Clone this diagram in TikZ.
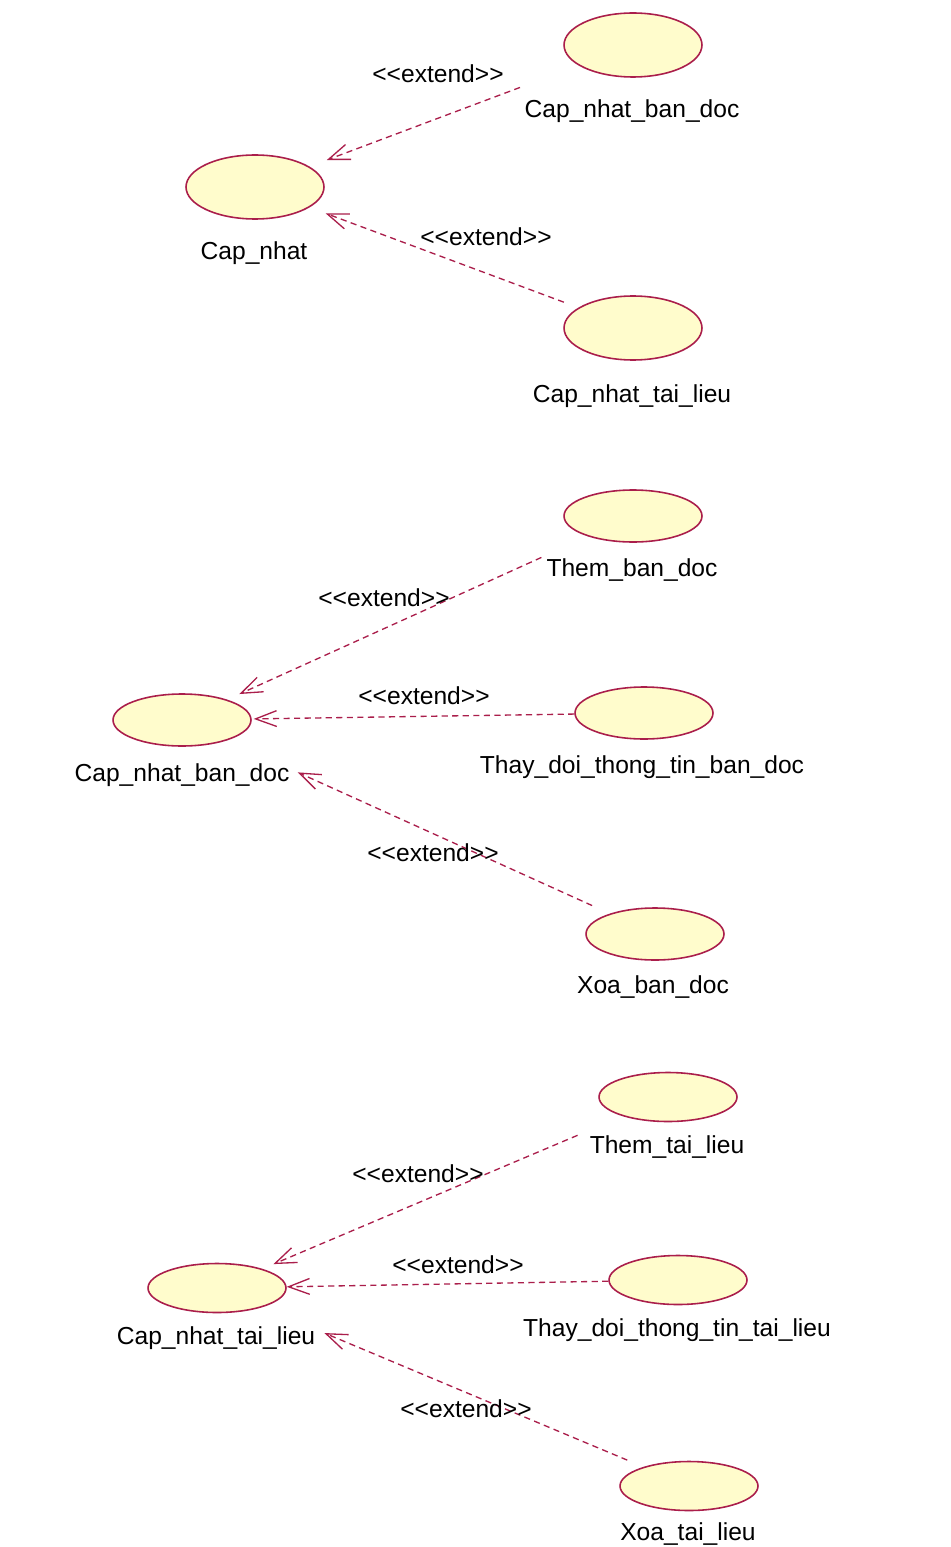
\documentclass[tikz,border=0pt]{standalone}
\usepackage{fontspec}
\setmainfont{Liberation Sans}[Ligatures=TeXOff]
\usepackage{xcolor}
\usetikzlibrary{arrows.meta}
\usetikzlibrary{shapes.geometric}
\definecolor{ucred}{RGB}{170,30,75}
\definecolor{ucfill}{RGB}{255,252,204}

\begin{document}
\begin{tikzpicture}[x=0.02cm, y=-0.02cm,
  usecase/.style={ellipse, draw=ucred, fill=ucfill, line width=0.9pt, minimum width=2.76cm, inner sep=0pt},
  ucname/.style={font=\fontsize{14}{16}\selectfont, inner sep=0pt},
  stereo/.style={font=\fontsize{14}{16}\selectfont, inner sep=0pt},
  extend/.style={draw=ucred, line width=0.75pt, dash pattern=on 3.5pt off 2.5pt, -{Straight Barb[length=12pt,width=9pt]}}
]
\fill[white] (0,0) rectangle (950,1547);
\useasboundingbox (0,0) rectangle (950,1547);

%%%%%%%%%%  top: Cap_nhat
\node[usecase, minimum height=1.28cm] (capnhat) at (255,187) {};
\node[ucname] (capnhat-l) at (254,253) {Cap\_nhat};
\node[usecase, minimum height=1.28cm] (cnbd) at (633,45) {};
\node[ucname] (cnbd-l) at (632,111) {Cap\_nhat\_ban\_doc};
\node[usecase, minimum height=1.28cm] (cntl) at (633,328) {};
\node[ucname] (cntl-l) at (632,396) {Cap\_nhat\_tai\_lieu};

\draw[extend, shorten <=1.25cm, shorten >=0.37cm] (cnbd) -- (capnhat);
\draw[extend, shorten <=0.31cm, shorten >=0.34cm] (cntl) -- (capnhat);
\node[stereo] (ext1) at (438,74) {<<extend>>};
\node[stereo] (ext2) at (486,237) {<<extend>>};

%%%%%%%%%%  middle: Cap_nhat_ban_doc
\node[usecase, minimum height=1.04cm] (bd) at (182,720) {};
\node[ucname] (bd-l) at (182,775) {Cap\_nhat\_ban\_doc};
\node[usecase, minimum height=1.04cm] (thembd) at (633,516) {};
\node[ucname] (thembd-l) at (632,570) {Them\_ban\_doc};
\node[usecase, minimum height=1.04cm] (thaybd) at (644,713) {};
\node[ucname] (thaybd-l) at (642,767) {Thay\_doi\_thong\_tin\_ban\_doc};
\node[usecase, minimum height=1.04cm] (xoabd) at (655,934) {};
\node[ucname] (xoabd-l) at (653,987) {Xoa\_ban\_doc};

\draw[extend, shorten <=1.02cm, shorten >=0.27cm] (thembd) -- (bd);
\draw[extend, shorten >=0.04cm] (thaybd) -- (bd);
\draw[extend, shorten <=0.39cm, shorten >=1.55cm] (xoabd) -- (bd);
\node[stereo] (ext3) at (384,598) {<<extend>>};
\node[stereo] (ext4) at (424,696) {<<extend>>};
\node[stereo] (ext5) at (433,853) {<<extend>>};

%%%%%%%%%%  bottom: Cap_nhat_tai_lieu
\node[usecase, minimum height=0.98cm] (tl) at (217,1288) {};
\node[ucname] (tl-l) at (216,1338) {Cap\_nhat\_tai\_lieu};
\node[usecase, minimum height=0.98cm] (themtl) at (668,1097) {};
\node[ucname] (themtl-l) at (667,1147) {Them\_tai\_lieu};
\node[usecase, minimum height=0.98cm] (thaytl) at (678,1280) {};
\node[ucname] (thaytl-l) at (677,1330) {Thay\_doi\_thong\_tin\_tai\_lieu};
\node[usecase, minimum height=0.98cm] (xoatl) at (689,1486) {};
\node[ucname] (xoatl-l) at (688,1534) {Xoa\_tai\_lieu};

\draw[extend, shorten <=0.98cm, shorten >=0.24cm] (themtl) -- (tl);
\draw[extend] (thaytl) -- (tl);
\draw[extend, shorten <=0.35cm, shorten >=1.34cm] (xoatl) -- (tl);
\node[stereo] (ext6) at (418,1174) {<<extend>>};
\node[stereo] (ext7) at (458,1265) {<<extend>>};
\node[stereo] (ext8) at (466,1409) {<<extend>>};

\end{tikzpicture}
\end{document}
